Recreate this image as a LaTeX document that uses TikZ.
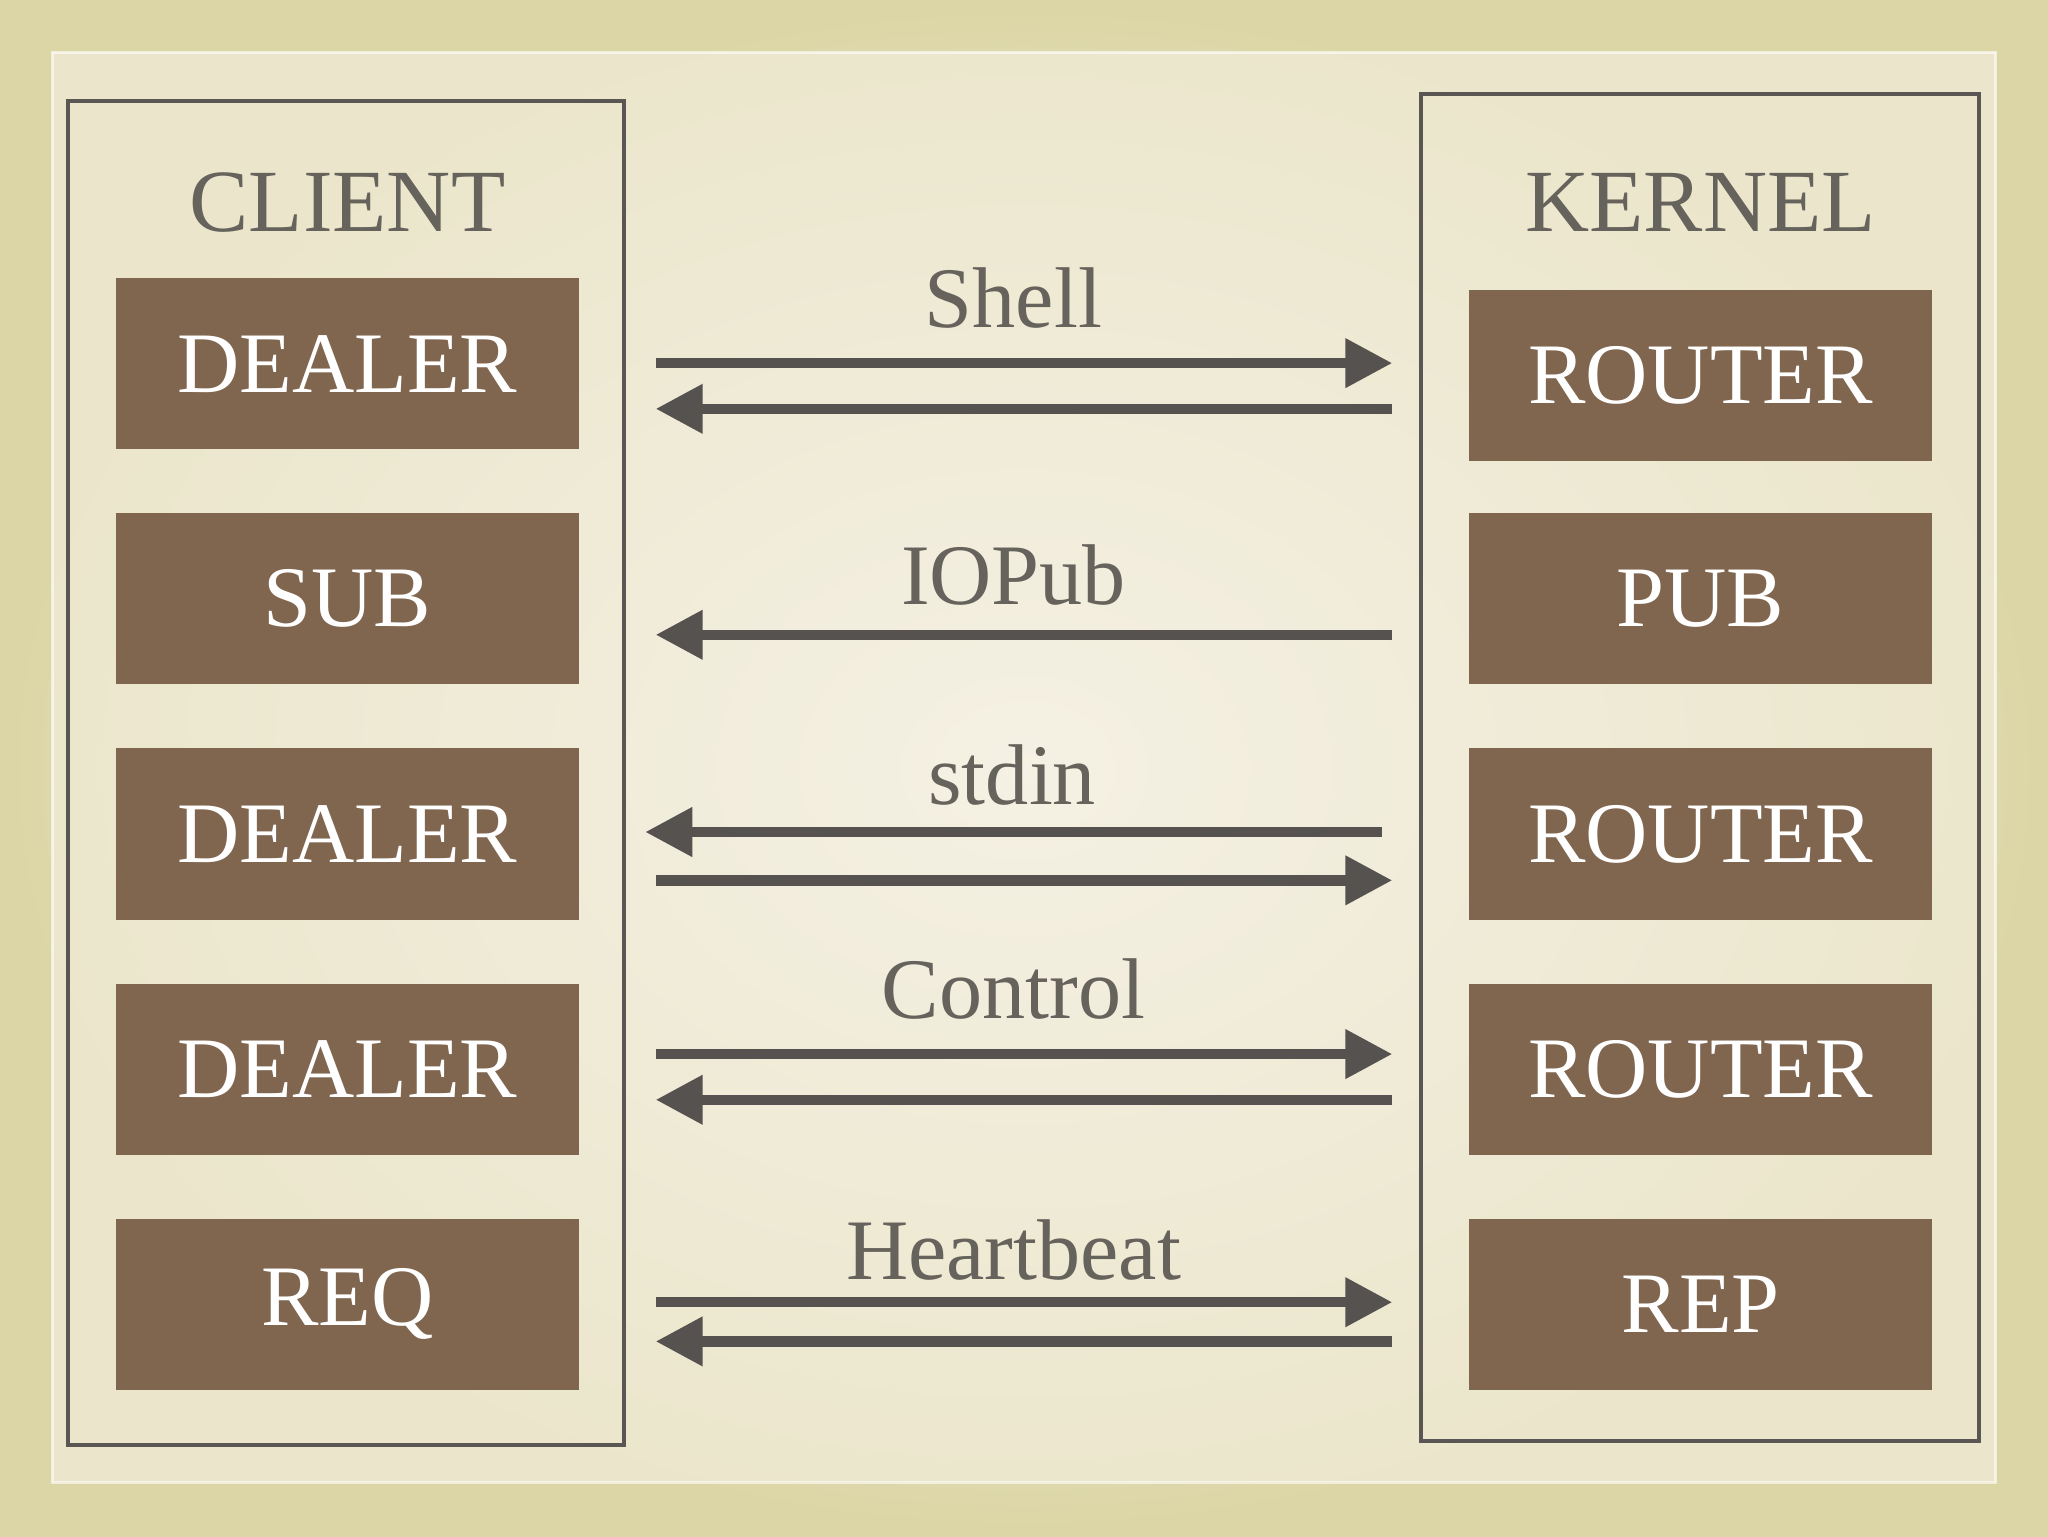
\documentclass[tikz,border=0pt]{standalone}
\usepackage{fontspec}
\setmainfont{Liberation Serif}
\usetikzlibrary{arrows.meta,shadows}
\definecolor{bgedge}{HTML}{DCD6A6}
\definecolor{bgmid}{HTML}{F5F1E4}
\definecolor{brownbox}{HTML}{80654F}
\definecolor{arr}{HTML}{555250}
\definecolor{frame}{HTML}{5A5654}
\definecolor{ttl}{HTML}{66625C}
\tikzset{
 sock/.style={fill=brownbox,minimum width=354pt,minimum height=131pt,inner sep=0pt,
   font=\fontsize{66}{70}\selectfont,text=white},
 ttlstyle/.style={font=\fontsize{68}{72}\selectfont,text=ttl},
 lbl/.style={font=\fontsize{66}{70}\selectfont,text=ttl},
 link/.style={draw=arr,line width=8pt,-{Triangle[length=36pt,width=36pt]}},
 panel/.style={draw=frame,line width=3pt}
}
\begin{document}
\begin{tikzpicture}[x=1pt,y=-1pt]
\useasboundingbox (0,0) rectangle (1568,1176);
\shade[inner color=bgmid,outer color=bgedge] (0,0) rectangle (1568,1176);
\fill[bgmid,opacity=0.6,draw=white,line width=2pt] (40,40) rectangle (1528,1135);
\draw[panel] (52,77) rectangle (478,1106);
\draw[panel] (1088,72) rectangle (1515,1103);
\node[ttlstyle] (client) at (266,155) {CLIENT};
\node[ttlstyle] (kernel) at (1302,155) {KERNEL};
\node[sock] (c1) at (266,278.5) {DEALER};
\node[sock] (c2) at (266,458.5) {SUB};
\node[sock] (c3) at (266,638.5) {DEALER};
\node[sock] (c4) at (266,818.5) {DEALER};
\node[sock] (c5) at (266,998.5) {REQ};
\node[sock] (k1) at (1302,287.5) {ROUTER};
\node[sock] (k2) at (1302,458.5) {PUB};
\node[sock] (k3) at (1302,638.5) {ROUTER};
\node[sock] (k4) at (1302,818.5) {ROUTER};
\node[sock] (k5) at (1302,998.5) {REP};
\node[lbl] (l1) at (776,228) {Shell};
\node[lbl] (l2) at (776,440) {IOPub};
\node[lbl] (l3) at (775,593) {stdin};
\node[lbl] (l4) at (776,757) {Control};
\node[lbl] (l5) at (776,957) {Heartbeat};
\foreach \n/\y in {a/278,b/313,c/486,d/674,e/807,f/842,g/997,h/1027}{
  \coordinate (L\n) at (502,\y); \coordinate (R\n) at (1066,\y);}
\coordinate (Ls) at (494,637); \coordinate (Rs) at (1058,637);
\draw[link] (La) -- (Ra);
\draw[link] (Rb) -- (Lb);
\draw[link] (Rc) -- (Lc);
\draw[link] (Rs) -- (Ls);
\draw[link] (Ld) -- (Rd);
\draw[link] (Le) -- (Re);
\draw[link] (Rf) -- (Lf);
\draw[link] (Lg) -- (Rg);
\draw[link] (Rh) -- (Lh);
\end{tikzpicture}
\end{document}
